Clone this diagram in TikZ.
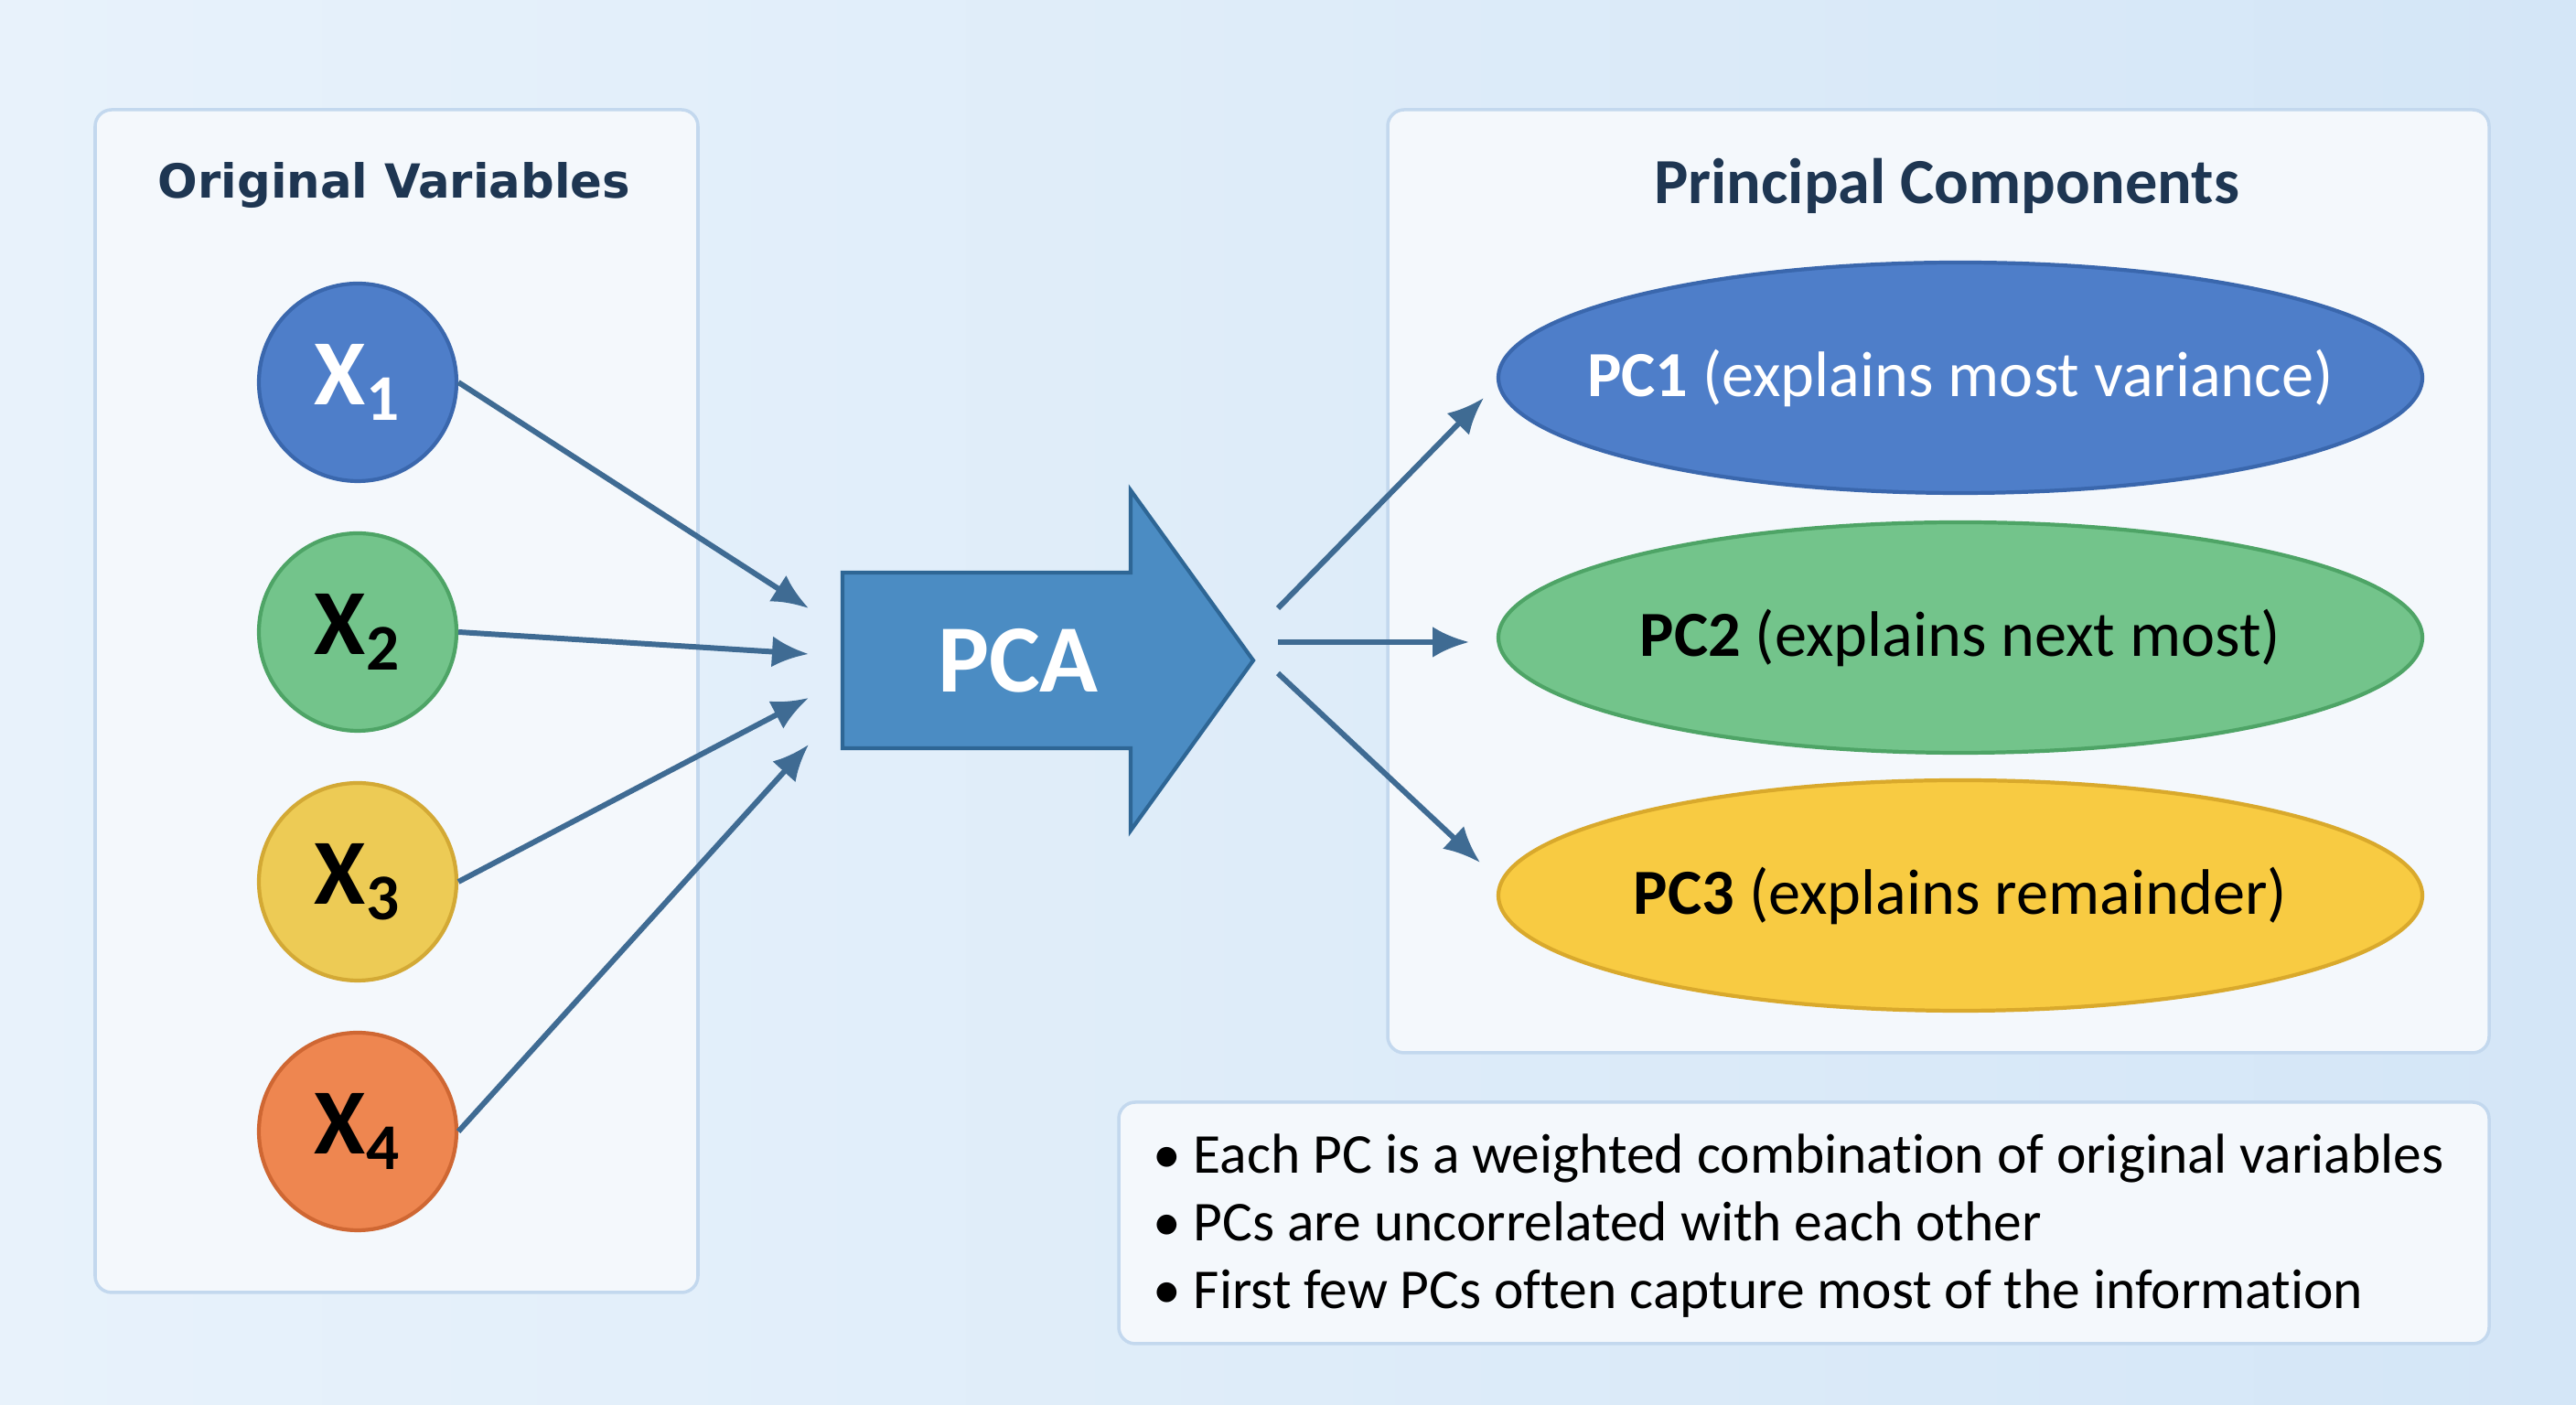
\documentclass[tikz,border=0pt]{standalone}
\usepackage{fontspec}
\setmainfont{Carlito}[RawFeature={-liga}]
\newfontfamily\titlefont{DejaVu Sans}
\usetikzlibrary{arrows.meta,shapes.geometric}

\definecolor{bgleft}{HTML}{E8F2FB}
\definecolor{bgright}{HTML}{D4E6F7}
\definecolor{panelfill}{HTML}{F4F8FC}
\definecolor{paneldraw}{HTML}{C3D8EE}
\definecolor{titlecol}{HTML}{1E3652}
\definecolor{linkcol}{HTML}{3F6B93}
\definecolor{pcafill}{HTML}{4B8CC3}
\definecolor{pcadraw}{HTML}{2E6695}
\definecolor{vblue}{HTML}{4E7EC9}
\definecolor{vbluedark}{HTML}{3A67AD}
\definecolor{vgreen}{HTML}{73C48B}
\definecolor{vgreendark}{HTML}{4EA466}
\definecolor{vyellow}{HTML}{EDCB55}
\definecolor{vyellowdark}{HTML}{D3A935}
\definecolor{vorange}{HTML}{EE8650}
\definecolor{vorangedark}{HTML}{CF6733}
\definecolor{pcyellow}{HTML}{F8CB42}
\definecolor{pcyellowdark}{HTML}{D9A92C}

\begin{document}
\begin{tikzpicture}[
        panel/.style={rectangle, draw=paneldraw, fill=panelfill, line width=1pt, rounded corners=0.18cm},
        var/.style={circle, minimum size=2.16cm, line width=1.2pt, inner sep=0pt, font=\fontsize{29}{31}\selectfont\bfseries},
        pc/.style={ellipse, minimum width=10.1cm, minimum height=2.52cm, line width=1.2pt, inner sep=0pt},
        pctext/.style={font=\fontsize{20}{24}\selectfont},
        heading/.style={font=\fontsize{20}{24}\selectfont\bfseries, text=titlecol},
        link/.style={-{Latex[length=0.4cm, width=0.34cm]}, line width=1.7pt, draw=linkcol}
    ]
        % Background
        \shade[left color=bgleft, right color=bgright] (0,0) rectangle (28.16,15.36);
        \useasboundingbox (0,0) rectangle (28.16,15.36);

        % Panels
        \node[panel, minimum width=6.59cm, minimum height=12.93cm] (left) at (4.335, 7.695) {};
        \node[panel, minimum width=12.04cm, minimum height=10.31cm] (right) at (21.19, 9.005) {};
        \node[panel, minimum width=14.98cm, minimum height=2.64cm] (notes) at (19.72, 1.99) {};

        % Headings
        \node[heading, font=\titlefont\fontsize{14.6}{18}\selectfont\bfseries] (hleft) at (4.31, 13.33) {Original Variables};
        \node[heading] (hright) at (21.28, 13.33) {Principal Components};

        % Original variables
        \node[var, fill=vblue, draw=vbluedark, text=white] (x1) at (3.91, 11.18) {X\textsubscript{1}};
        \node[var, fill=vgreen, draw=vgreendark] (x2) at (3.91, 8.45) {X\textsubscript{2}};
        \node[var, fill=vyellow, draw=vyellowdark] (x3) at (3.91, 5.72) {X\textsubscript{3}};
        \node[var, fill=vorange, draw=vorangedark] (x4) at (3.91, 2.99) {X\textsubscript{4}};

        % PCA block arrow
        \draw[fill=pcafill, draw=pcadraw, line width=1.2pt]
            (9.21, 9.10) -- (12.36, 9.10) -- (12.36, 10.00) -- (13.70, 8.14)
            -- (12.36, 6.28) -- (12.36, 7.18) -- (9.21, 7.18) -- cycle;
        \node[font=\fontsize{30}{34}\selectfont\bfseries, text=white] (pca) at (11.13, 8.14) {PCA};

        % Inputs and outputs of the PCA arrow
        \coordinate (in1) at (8.84, 8.71);
        \coordinate (in2) at (8.84, 8.21);
        \coordinate (in3) at (8.84, 7.73);
        \coordinate (in4) at (8.84, 7.22);
        \coordinate (out1) at (13.97, 8.71);
        \coordinate (out2) at (13.97, 8.34);
        \coordinate (out3) at (13.97, 8.00);
        \coordinate (tip1) at (16.22, 11.01);
        \coordinate (tip2) at (16.06, 8.34);
        \coordinate (tip3) at (16.18, 5.93);

        % Principal components
        \node[pc, fill=vblue, draw=vbluedark, label={[pctext, text=white]center:\textbf{PC1} (explains most variance)}] (pc1) at (21.43, 11.23) {};
        \node[pc, fill=vgreen, draw=vgreendark, label={[pctext]center:\textbf{PC2} (explains next most)}] (pc2) at (21.43, 8.39) {};
        \node[pc, fill=pcyellow, draw=pcyellowdark, label={[pctext]center:\textbf{PC3} (explains remainder)}] (pc3) at (21.43, 5.57) {};

        % Arrows into PCA
        \draw[link] (x1.east) -- (in1);
        \draw[link] (x2.east) -- (in2);
        \draw[link] (x3.east) -- (in3);
        \draw[link] (x4.east) -- (in4);

        % Arrows out of PCA
        \draw[link] (out1) -- (tip1);
        \draw[link] (out2) -- (tip2);
        \draw[link] (out3) -- (tip3);

        % Notes
        \node[font=\fontsize{17.5}{21}\selectfont, anchor=west, align=left] (bullets) at (12.48, 1.96)
            {\textbullet\ Each PC is a weighted combination of original variables\\
             \textbullet\ PCs are uncorrelated with each other\\
             \textbullet\ First few PCs often capture most of the information};

    \end{tikzpicture}
\end{document}
